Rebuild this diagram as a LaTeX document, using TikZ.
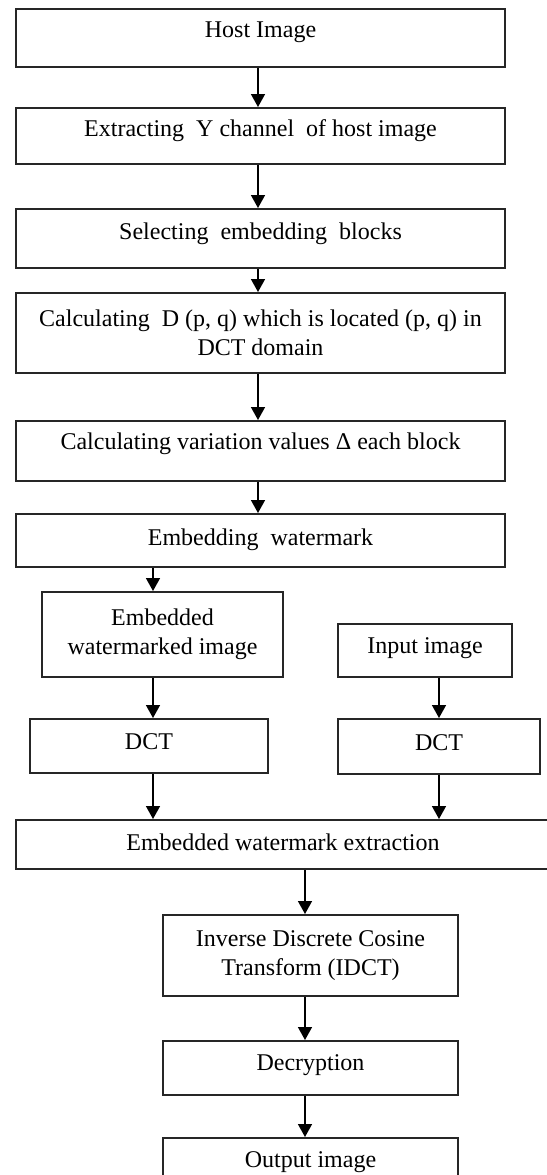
\documentclass[tikz,border=0pt]{standalone}
\usepackage{fontspec}
\setmainfont{Liberation Serif}
\usetikzlibrary{arrows.meta}
\tikzset{
	node_box/.style = {
		rectangle,
		draw=black!85,
		line width=1pt,
		align=center,
		inner sep=0pt,
		font=\fontsize{12}{14.5}\selectfont
	},
	node_one/.style = {
		node_box,
		text height=8.2pt,
		text depth=#1
	},
	node_one/.default=5pt,
	node_two/.style = {
		node_box
	},
	box_wh/.style 2 args = {
		minimum width=#1,
		minimum height=#2
	},
	flow/.style = {
		-{Triangle[length=6.5pt,width=7pt]},
		line width=0.8pt
	}
}

\begin{document}
\begin{tikzpicture}[x=0.5pt,y=-0.5pt]
\useasboundingbox (0,0) rectangle (547,1175);
\node [node_one=8.9pt, box_wh={244.5pt}{29pt}] (host) at (260.5,38) {Host Image};
\node [node_one=7.4pt, box_wh={244.5pt}{28pt}] (ychan) at (260.5,136) {Extracting\ \ Y channel\ \ of host image};
\node [node_one=6.9pt, box_wh={244.5pt}{29.5pt}] (select) at (260.5,238.5) {Selecting\ \ embedding\ \ blocks};
\node [node_two, box_wh={244.5pt}{40pt}] (calcd) at (260.5,333) {Calculating\ \ D (p, q) which is located (p, q) in\\DCT domain};
\node [node_one=9.4pt, box_wh={244.5pt}{30pt}] (calcv) at (260.5,451) {Calculating variation values Δ each block};
\node [node_one=2.9pt, box_wh={244.5pt}{26.5pt}] (embed) at (260.5,540.5) {Embedding\ \ watermark};
\node [node_two, box_wh={120.5pt}{42.5pt}] (wmimg) at (162.5,634.5) {Embedded\\watermarked image};
\node [node_one=4.4pt, box_wh={119pt}{27pt}] (dctl) at (149,746) {DCT};
\node [node_one=5.4pt, box_wh={87pt}{26.5pt}] (input) at (425,650.5) {Input image};
\node [node_one=4.4pt, box_wh={101pt}{27.5pt}] (dctr) at (439,746.5) {DCT};
\node [node_one=2.4pt, box_wh={267pt}{24.5pt}] (extract) at (283,844.5) {Embedded watermark extraction};
\node [node_two, box_wh={147.5pt}{40.5pt}] (idct) at (310.5,955.5) {Inverse Discrete Cosine\\Transform (IDCT)};
\node [node_one=5.4pt, box_wh={147.5pt}{27pt}] (decrypt) at (310.5,1068) {Decryption};
\node [node_one=5.4pt, box_wh={147.5pt}{27pt}] (output) at (310.5,1165) {Output image};

\coordinate (mcol) at (258,0);
\coordinate (lcol) at (153,0);
\coordinate (rcol) at (439,0);
\coordinate (bcol) at (305,0);

\foreach \a/\b in {host/ychan, ychan/select, select/calcd, calcd/calcv, calcv/embed}
	\draw [flow] (\a.south -| mcol) -- (\b.north -| mcol);
\foreach \a/\b in {embed/wmimg, wmimg/dctl, dctl/extract}
	\draw [flow] (\a.south -| lcol) -- (\b.north -| lcol);
\foreach \a/\b in {input/dctr, dctr/extract}
	\draw [flow] (\a.south -| rcol) -- (\b.north -| rcol);
\foreach \a/\b in {extract/idct, idct/decrypt, decrypt/output}
	\draw [flow] (\a.south -| bcol) -- (\b.north -| bcol);
\end{tikzpicture}
\end{document}
